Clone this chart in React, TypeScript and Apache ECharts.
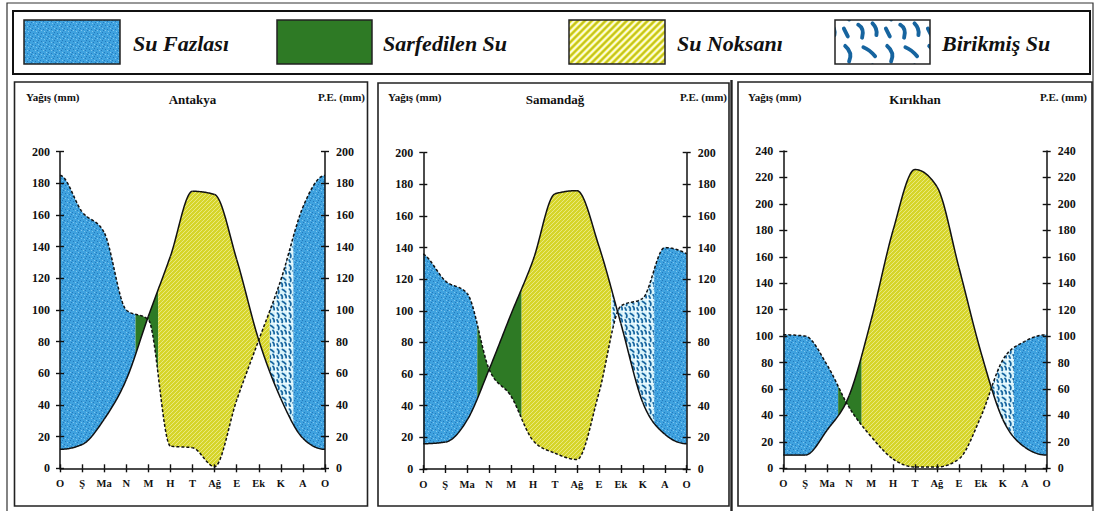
import React, { useEffect, useRef } from 'react';
import * as echarts from 'echarts';

const FONT = '"Liberation Serif", "Times New Roman", serif';

// Month ticks, January to January
const monthLabels = ['O', 'Ş', 'Ma', 'N', 'M', 'H', 'T', 'Ağ', 'E', 'Ek', 'K', 'A', 'O'];
const zoneNames = ['Su Fazlası', 'Sarfedilen Su', 'Su Noksanı', 'Birikmiş Su'];

// Antakya: precipitation and potential evapotranspiration (mm)
const antakyaRain = [185, 162, 149, 100, 94, 14, 13, 1, 43, 81, 119, 165, 185];
const antakyaPE = [12, 15, 31, 56, 96, 134, 175, 173, 132, 81, 44, 19, 12];
// [from month, to month, zone index]
const antakyaZones = [[0, 3.42, 0], [3.42, 4.45, 1], [4.45, 9.5, 2], [9.5, 10.57, 3], [10.57, 12, 0]];

// Samandağ
const samandagRain = [136, 119, 111, 63, 46, 18, 10, 6, 48, 103, 108, 140, 136];
const samandagPE = [16, 17, 31, 63, 98, 132, 174, 176, 141, 92, 42, 22, 16];
const samandagZones = [[0, 2.46, 0], [2.46, 4.48, 1], [4.48, 8.56, 2], [8.56, 10.52, 3], [10.52, 12, 0]];

// Kırıkhan
const kirikhanRain = [101, 100, 78, 46, 24, 7, 1, 1, 7, 39, 82, 96, 101];
const kirikhanPE = [10, 10, 29, 55, 112, 180, 226, 213, 152, 88, 37, 16, 10];
const kirikhanZones = [[0, 2.5, 0], [2.5, 3.57, 1], [3.57, 9.49, 2], [9.49, 10.51, 3], [10.51, 12, 0]];

const stations = [
  { name: 'Antakya', rain: antakyaRain, pe: antakyaPE, zones: antakyaZones, yMax: 200 },
  { name: 'Samandağ', rain: samandagRain, pe: samandagPE, zones: samandagZones, yMax: 200 },
  { name: 'Kırıkhan', rain: kirikhanRain, pe: kirikhanPE, zones: kirikhanZones, yMax: 240 },
];

// Panel frames and plot rectangles (px)
const panelLayout = [
  { frame: [14.5, 82, 353, 424], grid: { left: 60, top: 151.7, width: 265, height: 316.6 }, yName: 26, peRight: 365 },
  { frame: [378, 83, 351, 423], grid: { left: 423.3, top: 152.7, width: 263.4, height: 316.3 }, yName: 388, peRight: 727 },
  { frame: [738, 82, 354, 424], grid: { left: 783.3, top: 151, width: 263.4, height: 317.3 }, yName: 748, peRight: 1087 },
];

const legendLayout = [
  { box: [24, 20, 96, 44], text: 133 },
  { box: [277, 20, 95, 44], text: 383 },
  { box: [569, 20, 96, 44], text: 677 },
  { box: [835, 20, 95, 44], text: 942 },
];

// Monotone cubic tangents (Steffen), wrapping round the year
function tangents(v: number[]): number[] {
  const n = v.length;
  const m: number[] = [];
  for (let i = 0; i < n; i++) {
    const prev = i === 0 ? v[n - 2] : v[i - 1];
    const next = i === n - 1 ? v[1] : v[i + 1];
    const s0 = v[i] - prev;
    const s1 = next - v[i];
    const p = (s0 + s1) / 2;
    m.push((Math.sign(s0) + Math.sign(s1)) * Math.min(Math.abs(s0), Math.abs(s1), 0.5 * Math.abs(p)) || 0);
  }
  return m;
}

function curveAt(v: number[], m: number[], x: number): number {
  const i = Math.max(0, Math.min(Math.floor(x), v.length - 2));
  const t = x - i;
  const t2 = t * t;
  const t3 = t2 * t;
  return (2 * t3 - 3 * t2 + 1) * v[i] + (t3 - 2 * t2 + t) * m[i] + (-2 * t3 + 3 * t2) * v[i + 1] + (t3 - t2) * m[i + 1];
}

function makeTile(w: number, h: number, draw: (ctx: CanvasRenderingContext2D) => void) {
  const c = document.createElement('canvas');
  c.width = w;
  c.height = h;
  const ctx = c.getContext('2d') as CanvasRenderingContext2D;
  draw(ctx);
  return { image: c.toDataURL(), repeat: 'repeat', imageWidth: w, imageHeight: h };
}

function buildFills(legend: boolean) {
  const surplus = makeTile(8, 8, (ctx) => {
    ctx.fillStyle = '#3fa2df';
    ctx.fillRect(0, 0, 8, 8);
    ctx.fillStyle = '#2479bd';
    [[1, 1], [5, 2], [3, 5], [7, 6], [0, 4], [6, 0]].forEach(([x, y]) => ctx.fillRect(x, y, 1, 1));
    ctx.fillStyle = '#7fc6ee';
    [[3, 2], [6, 4], [1, 6], [4, 7]].forEach(([x, y]) => ctx.fillRect(x, y, 1, 1));
  });
  const used = '#2e7a25';
  const step = legend ? 7 : 4;
  const deficit = makeTile(step, step, (ctx) => {
    ctx.fillStyle = legend ? '#e6e42e' : '#d6d52a';
    ctx.fillRect(0, 0, step, step);
    ctx.strokeStyle = legend ? '#fbfbe6' : '#ebea8a';
    ctx.lineWidth = legend ? 1.8 : 0.9;
    ctx.beginPath();
    ctx.moveTo(-1, step + 1);
    ctx.lineTo(step + 1, -1);
    ctx.moveTo(-2, 2);
    ctx.lineTo(2, -2);
    ctx.moveTo(step - 2, step + 2);
    ctx.lineTo(step + 2, step - 2);
    ctx.stroke();
    if (legend) {
      ctx.strokeStyle = '#55551a';
      ctx.lineWidth = 0.5;
      ctx.beginPath();
      ctx.moveTo(-1, step / 2 + 1);
      ctx.lineTo(step / 2 + 1, -1);
      ctx.moveTo(step / 2 - 1, step + 1);
      ctx.lineTo(step + 1, step / 2 - 1);
      ctx.stroke();
    }
  });
  const s = legend ? 2.6 : 0.72;
  const recharge = makeTile(Math.round(16 * s), Math.round(16 * s), (ctx) => {
    ctx.fillStyle = legend ? '#ffffff' : '#d8f3fb';
    ctx.fillRect(0, 0, 16 * s, 16 * s);
    ctx.scale(s, s);
    ctx.strokeStyle = '#16649f';
    ctx.lineWidth = legend ? 1.5 : 2.4;
    ctx.lineCap = 'round';
    ctx.beginPath();
    ctx.moveTo(2, 1.5);
    ctx.quadraticCurveTo(5, 4, 3.5, 7.5);
    ctx.moveTo(9, 2);
    ctx.quadraticCurveTo(11.5, 3, 13.5, 5.5);
    ctx.moveTo(7, 9.5);
    ctx.quadraticCurveTo(9.5, 11, 8.5, 14.5);
    ctx.moveTo(12.5, 9);
    ctx.quadraticCurveTo(14.5, 11, 14, 13.5);
    ctx.moveTo(1.5, 11);
    ctx.lineTo(3, 14);
    ctx.stroke();
  });
  return [surplus, used, deficit, recharge];
}

function zoneRenderer(rain: number[], pe: number[], fills: any[]) {
  const mr = tangents(rain);
  const mp = tangents(pe);
  return (_params: any, api: any) => {
    const a = api.value(0) as number;
    const b = api.value(1) as number;
    const kind = api.value(2) as number;
    const n = Math.max(4, Math.ceil((b - a) * 40));
    const pts: number[][] = [];
    for (let s = 0; s <= n; s++) {
      const x = a + ((b - a) * s) / n;
      pts.push(api.coord([x, curveAt(rain, mr, x)]));
    }
    for (let s = n; s >= 0; s--) {
      const x = a + ((b - a) * s) / n;
      pts.push(api.coord([x, curveAt(pe, mp, x)]));
    }
    return { type: 'polygon', silent: true, shape: { points: pts }, style: { fill: fills[kind], stroke: null } };
  };
}

function lineRenderer(rain: number[], pe: number[]) {
  const mr = tangents(rain);
  const mp = tangents(pe);
  const sample = (api: any, v: number[], m: number[], from: number) => {
    const pts: number[][] = [];
    for (let s = 0; s <= 24; s++) {
      const x = from + s / 24;
      pts.push(api.coord([x, curveAt(v, m, x)]));
    }
    return pts;
  };
  const length = (pts: number[][]) => {
    let L = 0;
    for (let i = 1; i < pts.length; i++) L += Math.hypot(pts[i][0] - pts[i - 1][0], pts[i][1] - pts[i - 1][1]);
    return L;
  };
  return (_params: any, api: any) => {
    const i = api.value(0) as number;
    if (i >= rain.length - 1) return null;
    let offset = 0;
    for (let k = 0; k < i; k++) offset += length(sample(api, rain, mr, k));
    return {
      type: 'group',
      silent: true,
      children: [
        { type: 'polyline', shape: { points: sample(api, pe, mp, i) }, style: { stroke: '#111', lineWidth: 1.5, fill: null } },
        {
          type: 'polyline',
          shape: { points: sample(api, rain, mr, i) },
          style: { stroke: '#111', lineWidth: 1.5, fill: null, lineDash: [3, 2], lineDashOffset: offset },
        },
      ],
    };
  };
}

export default function App() {
  const ref = useRef<HTMLDivElement>(null);

  useEffect(() => {
    if (!ref.current) return;
    const chart = echarts.init(ref.current, undefined, { renderer: 'svg' });
    const fills = buildFills(false);
    const legendFills = buildFills(true);
    const axisColor = '#111';
    const tickStyle = { color: axisColor, width: 1.4 };

    const grid: any[] = [];
    const xAxis: any[] = [];
    const yAxis: any[] = [];
    const series: any[] = [];
    const graphic: any[] = [];

    graphic.push({ type: 'rect', shape: { x: 7, y: 3, width: 1086, height: 512 }, style: { fill: 'none', stroke: '#333', lineWidth: 1.2 } });
    graphic.push({ type: 'rect', shape: { x: 13, y: 11, width: 1077, height: 63 }, style: { fill: '#fff', stroke: '#111', lineWidth: 2 } });
    graphic.push({ type: 'line', shape: { x1: 731.5, y1: 80, x2: 731.5, y2: 511 }, style: { stroke: '#222', lineWidth: 2.4 } });

    zoneNames.forEach((name, k) => {
      const L = legendLayout[k];
      graphic.push({
        type: 'rect',
        shape: { x: L.box[0], y: L.box[1], width: L.box[2], height: L.box[3] },
        style: { fill: legendFills[k], stroke: '#222', lineWidth: 1.5 },
      });
      graphic.push({
        type: 'text',
        x: L.text,
        y: 43,
        style: {
          text: name,
          fill: '#111',
          fontFamily: FONT,
          fontWeight: 'bold',
          fontStyle: 'italic',
          fontSize: 22,
          textAlign: 'left',
          textVerticalAlign: 'middle',
        },
      });
    });

    stations.forEach((st, k) => {
      const P = panelLayout[k];
      const g = P.grid;
      grid.push({ left: g.left, top: g.top, width: g.width, height: g.height, outerBoundsMode: 'none' });
      graphic.push({
        type: 'rect',
        shape: { x: P.frame[0], y: P.frame[1], width: P.frame[2], height: P.frame[3] },
        style: { fill: 'none', stroke: '#222', lineWidth: 1.6 },
      });
      const txt = (text: string, x: number, y: number, align: string, size: number) => ({
        type: 'text',
        x,
        y,
        style: { text, fill: '#111', fontFamily: FONT, fontWeight: 'bold', fontSize: size, textAlign: align, textVerticalAlign: 'middle' },
      });
      graphic.push(txt('Yağış (mm)', P.yName, 97, 'left', 11));
      graphic.push(txt('P.E. (mm)', P.peRight, 97, 'right', 11));
      graphic.push(txt(st.name, g.left + g.width / 2, 99, 'center', 13));

      const labelStyle = { color: axisColor, fontFamily: FONT, fontWeight: 'bold', fontSize: 12 };
      const xBase = { gridIndex: k, type: 'value', min: 0, max: 12, interval: 1, splitLine: { show: false } };
      xAxis.push({
        ...xBase,
        position: 'bottom',
        z: 5,
        axisLine: { show: true, onZero: false, lineStyle: { color: axisColor, width: 1.5 } },
        axisTick: { show: true, length: 4, lineStyle: tickStyle },
        axisLabel: { ...labelStyle, fontSize: 10.5, margin: 10, formatter: (v: number) => monthLabels[Math.round(v)] ?? '' },
      });
      xAxis.push({
        ...xBase,
        position: 'top',
        offset: -g.height,
        z: 5,
        axisLine: { show: false, onZero: false },
        axisTick: { show: true, length: 4, lineStyle: tickStyle },
        axisLabel: { show: false },
      });
      const yBase = { gridIndex: k, type: 'value', min: 0, max: st.yMax, interval: 20, splitLine: { show: false } };
      yAxis.push({
        ...yBase,
        position: 'left',
        z: 5,
        axisLine: { show: true, onZero: false, lineStyle: { color: axisColor, width: 1.5 } },
        axisTick: { show: true, length: 4, lineStyle: tickStyle },
        axisLabel: { ...labelStyle, margin: 10 },
      });
      yAxis.push({
        ...yBase,
        position: 'right',
        z: 5,
        axisLine: { show: true, onZero: false, lineStyle: { color: axisColor, width: 1.5 } },
        axisTick: { show: true, length: 4, lineStyle: tickStyle },
        axisLabel: { ...labelStyle, margin: 11 },
      });
      // inner halves of the crossing ticks
      yAxis.push({
        ...yBase,
        position: 'right',
        offset: -g.width,
        z: 5,
        axisLine: { show: false, onZero: false },
        axisTick: { show: true, length: 4, lineStyle: tickStyle },
        axisLabel: { show: false },
      });
      yAxis.push({
        ...yBase,
        position: 'left',
        offset: -g.width,
        z: 5,
        axisLine: { show: false, onZero: false },
        axisTick: { show: true, length: 4, lineStyle: tickStyle },
        axisLabel: { show: false },
      });

      series.push({
        type: 'custom',
        name: st.name + ' bilanço',
        xAxisIndex: 2 * k,
        yAxisIndex: 4 * k,
        data: st.zones,
        renderItem: zoneRenderer(st.rain, st.pe, fills),
        z: 2,
      });
      series.push({
        type: 'custom',
        name: st.name + ' eğriler',
        xAxisIndex: 2 * k,
        yAxisIndex: 4 * k,
        data: st.rain.map((v, i) => [i, v, st.pe[i]]),
        renderItem: lineRenderer(st.rain, st.pe),
        z: 3,
      });
    });

    chart.setOption({
      animation: false,
      backgroundColor: '#fff',
      grid,
      xAxis,
      yAxis,
      series,
      graphic,
    });
    return () => chart.dispose();
  }, []);

  return <div ref={ref} style={{ position: 'absolute', left: 0, top: 0, width: 1096, height: 511 }} />;
}
